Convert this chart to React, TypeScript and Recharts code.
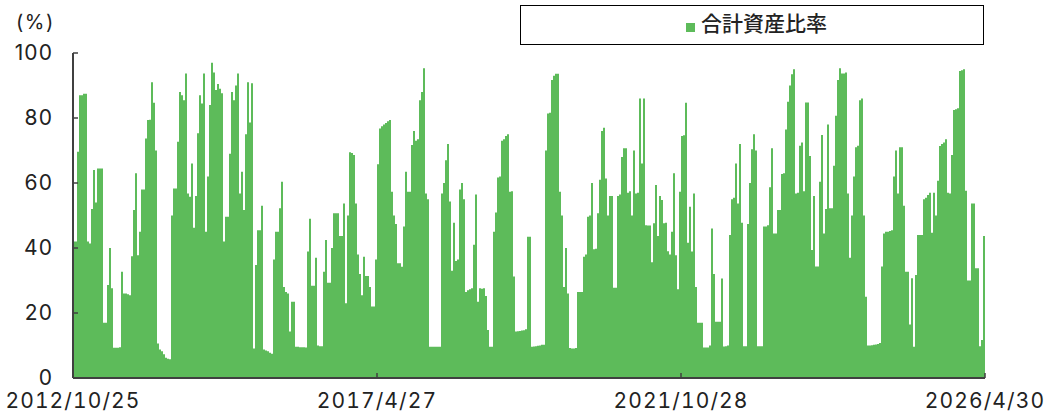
import React from 'react';
import { AreaChart, Area, XAxis, YAxis, Legend } from 'recharts';

const SERIES_NAME = '合計資産比率';
const GREEN = '#5dbb5a';
const AXIS = '#404040';
const FONT = 'Inter, "Noto Sans CJK JP", sans-serif';

const yTicks = [0, 20, 40, 60, 80, 100];
const tickLabels = ['2012/10/25', '2017/4/27', '2021/10/28', '2026/4/30'];
const tickPositions = [0, 152, 304, 456];

// one value per 2px of the axis
const values2012 = [
  42, 42, 69.6, 87, 87, 87.5, 87.5, 42, 41.4, 52,
  64, 54, 64.5, 64.5, 64.5, 17, 17, 28.6, 40, 27.6,
  9.3, 9.3, 9.3, 9.5, 32.7, 26, 26, 25.8, 25.5, 37.5,
  51.7, 63, 37.8, 45, 58, 58, 73.7, 79.4, 79.5, 91,
  84.7, 70, 10.6, 8.8, 8.2, 7.3, 6.2, 5.9, 5.8, 50,
  58.3, 58.3, 72.7, 88, 87, 85.5, 93.7, 56.8, 55.8, 66,
  46.2, 56, 75.3, 87, 84.5, 93.7, 45, 62, 84, 97,
  94, 88.6, 90.5, 89, 87.6, 42, 49.6, 49.6,
];
const values2014 = [
  69, 88, 85.5, 90, 93.7, 56.8, 63.5, 51.7, 75, 91,
  78.6, 90.7, 9.1, 34.8, 45.5, 45.5, 53, 8.8, 8.5, 8.2,
  7.8, 7.5, 36.5, 45, 45, 52.2, 60.4, 28, 26.5, 26,
  14.3, 23.5, 23.5, 9.6, 9.6, 9.5, 9.5, 9.5, 9.4, 38.9,
  49, 28.4, 28.4, 37, 10, 9.8, 9.8, 32.7, 42.5, 29.3,
  29.3, 40, 50.7, 50.7, 50.7, 43.7, 43.7, 53.7, 23, 50,
  69.5, 69.2, 68.6, 53.7, 38, 32, 25.5, 37.3, 31.4, 31.4,
  28, 22, 22, 36.5, 65.8, 76.8, 77.5, 78, 78.5, 79,
  79.4,
];
const values2017 = [
  57.3, 50, 47.4, 35.3, 35.3, 34.2, 46.6, 63.5, 57.3, 57.3,
  71.7, 76, 73, 73.5, 85.5, 88, 95.3, 56.8, 55, 9.6,
  9.6, 9.6, 9.6, 9.6, 9.6, 56.8, 60, 67, 72, 54.3,
  33, 47.8, 36, 36.5, 58, 60, 55, 26.5, 27, 27.3,
  27.6, 41, 56.5, 23.5, 27.6, 27.5, 27.6, 25.2, 14.8, 9.6,
  9.6, 45, 50.9, 61.7, 62, 73, 73.5, 74.5, 75, 57.3,
  57.5, 31.2, 14.3, 14.4, 14.5, 14.6, 14.7, 15, 43.5, 43.5,
  9.6, 9.7, 9.8, 9.9, 10, 10.2, 10.2, 70, 81.4, 81.6,
];
const values2019 = [
  91.7, 93, 93.6, 93.6, 57.3, 50, 28, 40, 26, 9.2,
  9.1, 9.1, 9.2, 26.5, 26.5, 26.5, 37.3, 38, 49.6, 50,
  60, 39.6, 39.8, 50.7, 61, 76, 77, 61.4, 50, 56,
  56, 27.8, 27.8, 56, 56.5, 68, 70.7, 70.7, 57, 57.5,
  50, 70, 56.8, 57, 86, 66, 86, 47, 46.9, 46.9,
  35.6, 47.6, 59.4, 43.7, 56, 54.8, 47.6, 47.8, 39, 38,
  45, 63, 37.8, 27.3, 57.3, 74.5, 74.7, 84.7, 41.6, 52.7,
  38.9, 56.8, 28, 17, 17, 17, 9.4, 9.4, 9.4, 10,
];
const values2022 = [
  46, 32, 17.3, 17.3, 17.3, 30.6, 9.7, 9.8, 10, 44,
  55, 55.5, 66, 53.7, 72, 47.8, 9.8, 9.8, 47.4, 60,
  70.4, 75, 70, 9.8, 9.8, 9.8, 46.6, 46.6, 47, 58.7,
  70.7, 44.5, 44.5, 51.7, 51.7, 62.8, 63, 76.5, 85, 90,
  93.5, 95, 56.8, 57, 71.5, 72.5, 57.5, 84.8, 84.8, 68.3,
  39.4, 56, 34.3, 34.3, 60.4, 74.8, 44.5, 52, 78, 52.2,
  52.2, 65.3, 80.7, 91.7, 95.3, 93.7, 93.7, 94, 56.8, 37,
];
const values2024 = [
  50, 62, 71, 71.5, 85.5, 86, 50, 25, 10, 10,
  10.1, 10.2, 10.3, 10.5, 10.8, 34.3, 44.5, 45, 45, 45.2,
  45.5, 62, 70, 56.8, 71, 71, 53, 32.7, 32.7, 16.5,
  30.7, 9.6, 31.7, 44, 44, 44, 55, 55.5, 56.3, 57,
  44.7, 57, 50, 60.7, 71.4, 72, 72.5, 73.5, 57, 56.8,
  68.6, 82.5, 82.7, 83, 94.5, 94.7, 95, 57.6, 30, 30,
  53.7, 53.7, 33.8, 33.8, 9.8, 11.7, 43.7, 43.7,
];

const values = [...values2012, ...values2014, ...values2017, ...values2019, ...values2022, ...values2024];
const data = values.map((v, i) => ({ i, ratio: v }));

const tickText = { fontSize: 21, letterSpacing: 1.1, fill: '#222', fontFamily: FONT };

function XTick({ x, y, index }: any) {
  return (
    <g>
      <line x1={x} x2={x} y1={y} y2={y - 5} stroke={AXIS} strokeWidth={1.5} />
      <text x={x} y={408} textAnchor="middle" style={{ fontVariantNumeric: 'tabular-nums' }} {...tickText}>
        {tickLabels[index]}
      </text>
    </g>
  );
}

function YTick({ x, y, payload }: any) {
  return (
    <g>
      <line x1={x} x2={x + 5} y1={y} y2={y} stroke={AXIS} strokeWidth={1.5} />
      <text x={53} y={y + 7} textAnchor="end" {...tickText}>
        {payload.value}
      </text>
    </g>
  );
}

export default function App() {
  return (
    <div style={{ position: 'absolute', left: 0, top: 0, width: 1047, height: 416, background: '#fff' }}>
      <AreaChart width={1047} height={416} data={data} margin={{ top: 53, right: 62, bottom: 0, left: 0 }}>
        <Area
          dataKey="ratio"
          name={SERIES_NAME}
          type="stepAfter"
          stroke="none"
          fill={GREEN}
          fillOpacity={1}
          isAnimationActive={false}
        />
        <XAxis
          dataKey="i"
          type="number"
          domain={[0, 456]}
          ticks={tickPositions}
          interval={0}
          tickLine={false}
          tickSize={0}
          tickMargin={0}
          tick={<XTick />}
          height={38}
          axisLine={{ stroke: AXIS, strokeWidth: 2 }}
        />
        <YAxis
          width={73}
          domain={[0, 100]}
          ticks={yTicks}
          interval={0}
          tickLine={false}
          tickSize={0}
          tickMargin={0}
          tick={<YTick />}
          axisLine={{ stroke: AXIS, strokeWidth: 2 }}
        />
        <Legend
          layout="vertical"
          align="center"
          verticalAlign="middle"
          iconType="square"
          iconSize={9}
          formatter={(value) => (
            <span style={{ color: '#222', fontSize: 21, fontWeight: 500, marginLeft: 2, fontFamily: '"Noto Sans CJK JP", sans-serif' }}>{value}</span>
          )}
          wrapperStyle={{
            position: 'absolute',
            left: 520,
            top: 5,
            width: 464,
            height: 40,
            boxSizing: 'border-box',
            border: '1.5px solid #000',
            lineHeight: '33px',
            paddingLeft: 165,
          }}
        />
        <text x={16} y={29} fontSize={20} letterSpacing={1.5} fill="#222" fontFamily={FONT}>(%)</text>
      </AreaChart>
    </div>
  );
}
